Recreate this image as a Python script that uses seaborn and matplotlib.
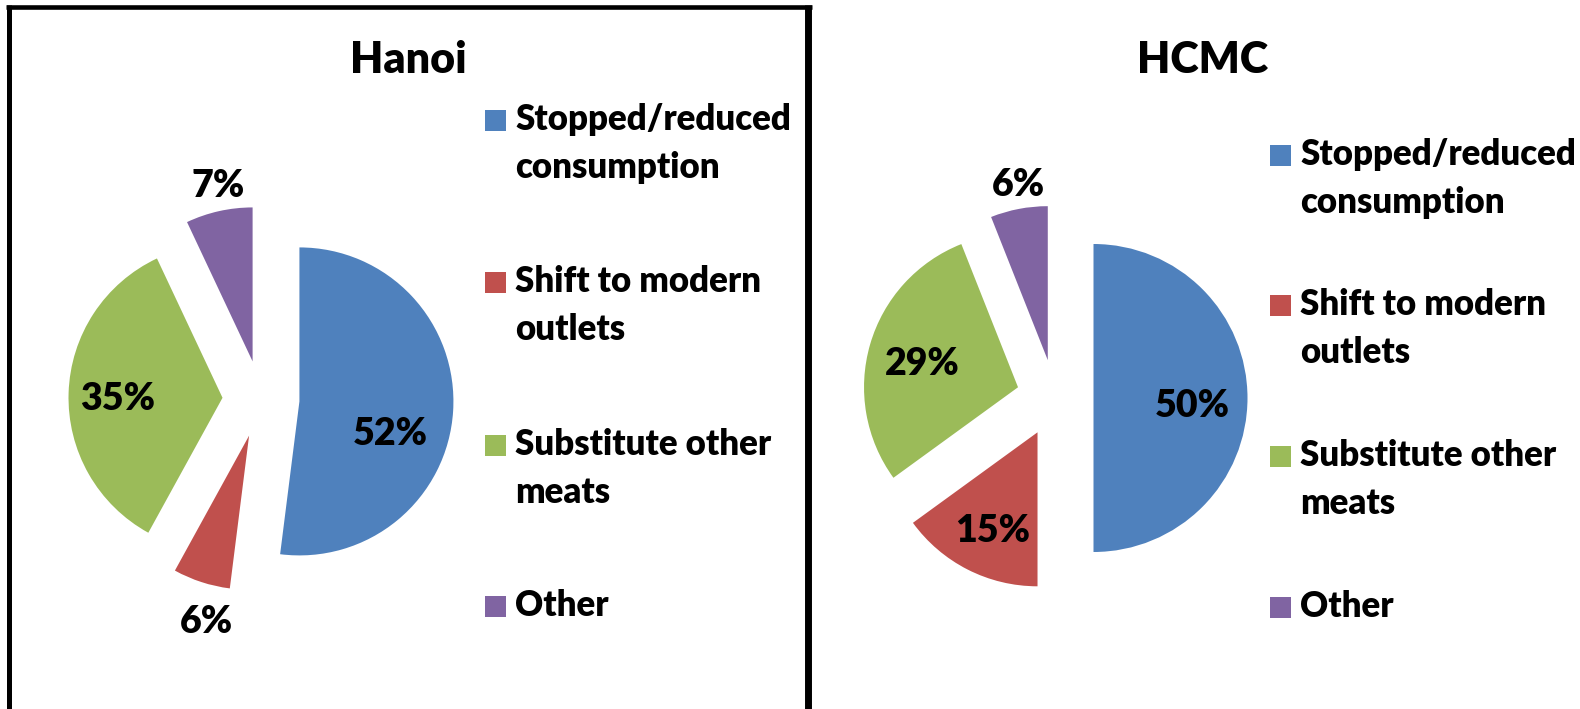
import numpy as np
import matplotlib
import matplotlib.pyplot as plt
import seaborn as sns
from matplotlib.lines import Line2D
from matplotlib.patches import Rectangle

# data
categories = ["Stopped/reduced\nconsumption", "Shift to modern\noutlets",
              "Substitute other\nmeats", "Other"]
hanoi_share = [52, 6, 35, 7]
hcmc_share = [50, 15, 29, 6]
slice_colors = ["#4F81BD", "#C0504D", "#9BBB59", "#8064A2"]

sns.set_theme(style="white")
plt.rcParams["font.family"] = ["Lato", "DejaVu Sans"]
plt.rcParams["font.weight"] = "bold"
plt.rcParams["text.color"] = "black"
palette = sns.color_palette(slice_colors)

W, H = 1580, 709
R = 154  # pie radius in pixels
WEIGHT = "heavy"
fig = plt.figure(figsize=(W / 100, H / 100), dpi=100)


def fx(x):
    return x / W


def fy(y):
    return 1 - y / H


# layout of each panel (pixel positions in the picture)
panels = [
    dict(title="Hanoi", values=hanoi_share, center=(261, 399), title_x=408,
         key_x=485, key_bottoms=[131, 293, 456, 617],
         label_dist=[0.62, 1.22, 0.68, 1.18], label_turn=[-14.6, 5, 0.8, -1.6]),
    dict(title="HCMC", values=hcmc_share, center=(1055, 398), title_x=1203,
         key_x=1270, key_bottoms=[166, 316, 467, 618],
         label_dist=[0.64, 0.685, 0.647, 1.173], label_turn=[-3, 2, 1, -1.3]),
]

for p in panels:
    cx, cy = p["center"]
    hw, hh = 230, 260
    ax = fig.add_axes([fx(cx - hw), fy(cy + hh), 2 * hw / W, 2 * hh / H])
    wedges, _, autotexts = ax.pie(
        p["values"], colors=palette, startangle=90, counterclock=False,
        explode=[0.25] * len(p["values"]), autopct="%d%%",
        wedgeprops=dict(linewidth=0),
        textprops=dict(fontsize=27, fontweight=WEIGHT, color="black"),
    )
    ax.set_xlim(-hw / R, hw / R)
    ax.set_ylim(-hh / R, hh / R)
    ax.set_aspect("auto")
    ax.axis("off")

    # put the percentage labels where the original chart has them
    for w, t, d, turn in zip(wedges, autotexts, p["label_dist"], p["label_turn"]):
        ang = np.deg2rad((w.theta1 + w.theta2) / 2 + turn)
        x0, y0 = w.center
        t.set_position((x0 + d * np.cos(ang), y0 + d * np.sin(ang)))
        t.set_ha("center")
        t.set_va("center_baseline")

    fig.text(fx(p["title_x"]), fy(73), p["title"], ha="center", va="baseline",
             fontsize=31, fontweight=WEIGHT, color="black")

    # legend, key square beside the first line of each entry
    for lab, col, yb in zip(categories, palette, p["key_bottoms"]):
        fig.patches.append(Rectangle((fx(p["key_x"]), fy(yb)), 21 / W, 21 / H,
                                     transform=fig.transFigure, color=col,
                                     linewidth=0))
        fig.text(fx(p["key_x"] + 30), fy(yb - 28), lab, ha="left", va="top",
                 fontsize=25, fontweight=WEIGHT, linespacing=1.55, color="black")

# panel frames
fig.add_artist(Line2D([fx(8.5), fx(8.5)], [fy(4.5), fy(709)], color="black",
                      lw=3.6, solid_capstyle="butt"))
fig.add_artist(Line2D([fx(6), fx(812)], [fy(6.5), fy(6.5)], color="black",
                      lw=3.3, solid_capstyle="butt"))
fig.add_artist(Line2D([fx(808.5), fx(808.5)], [fy(4.5), fy(709)], color="black",
                      lw=5, solid_capstyle="butt"))

plt.savefig("out.png", dpi=100)
plt.close("all")
